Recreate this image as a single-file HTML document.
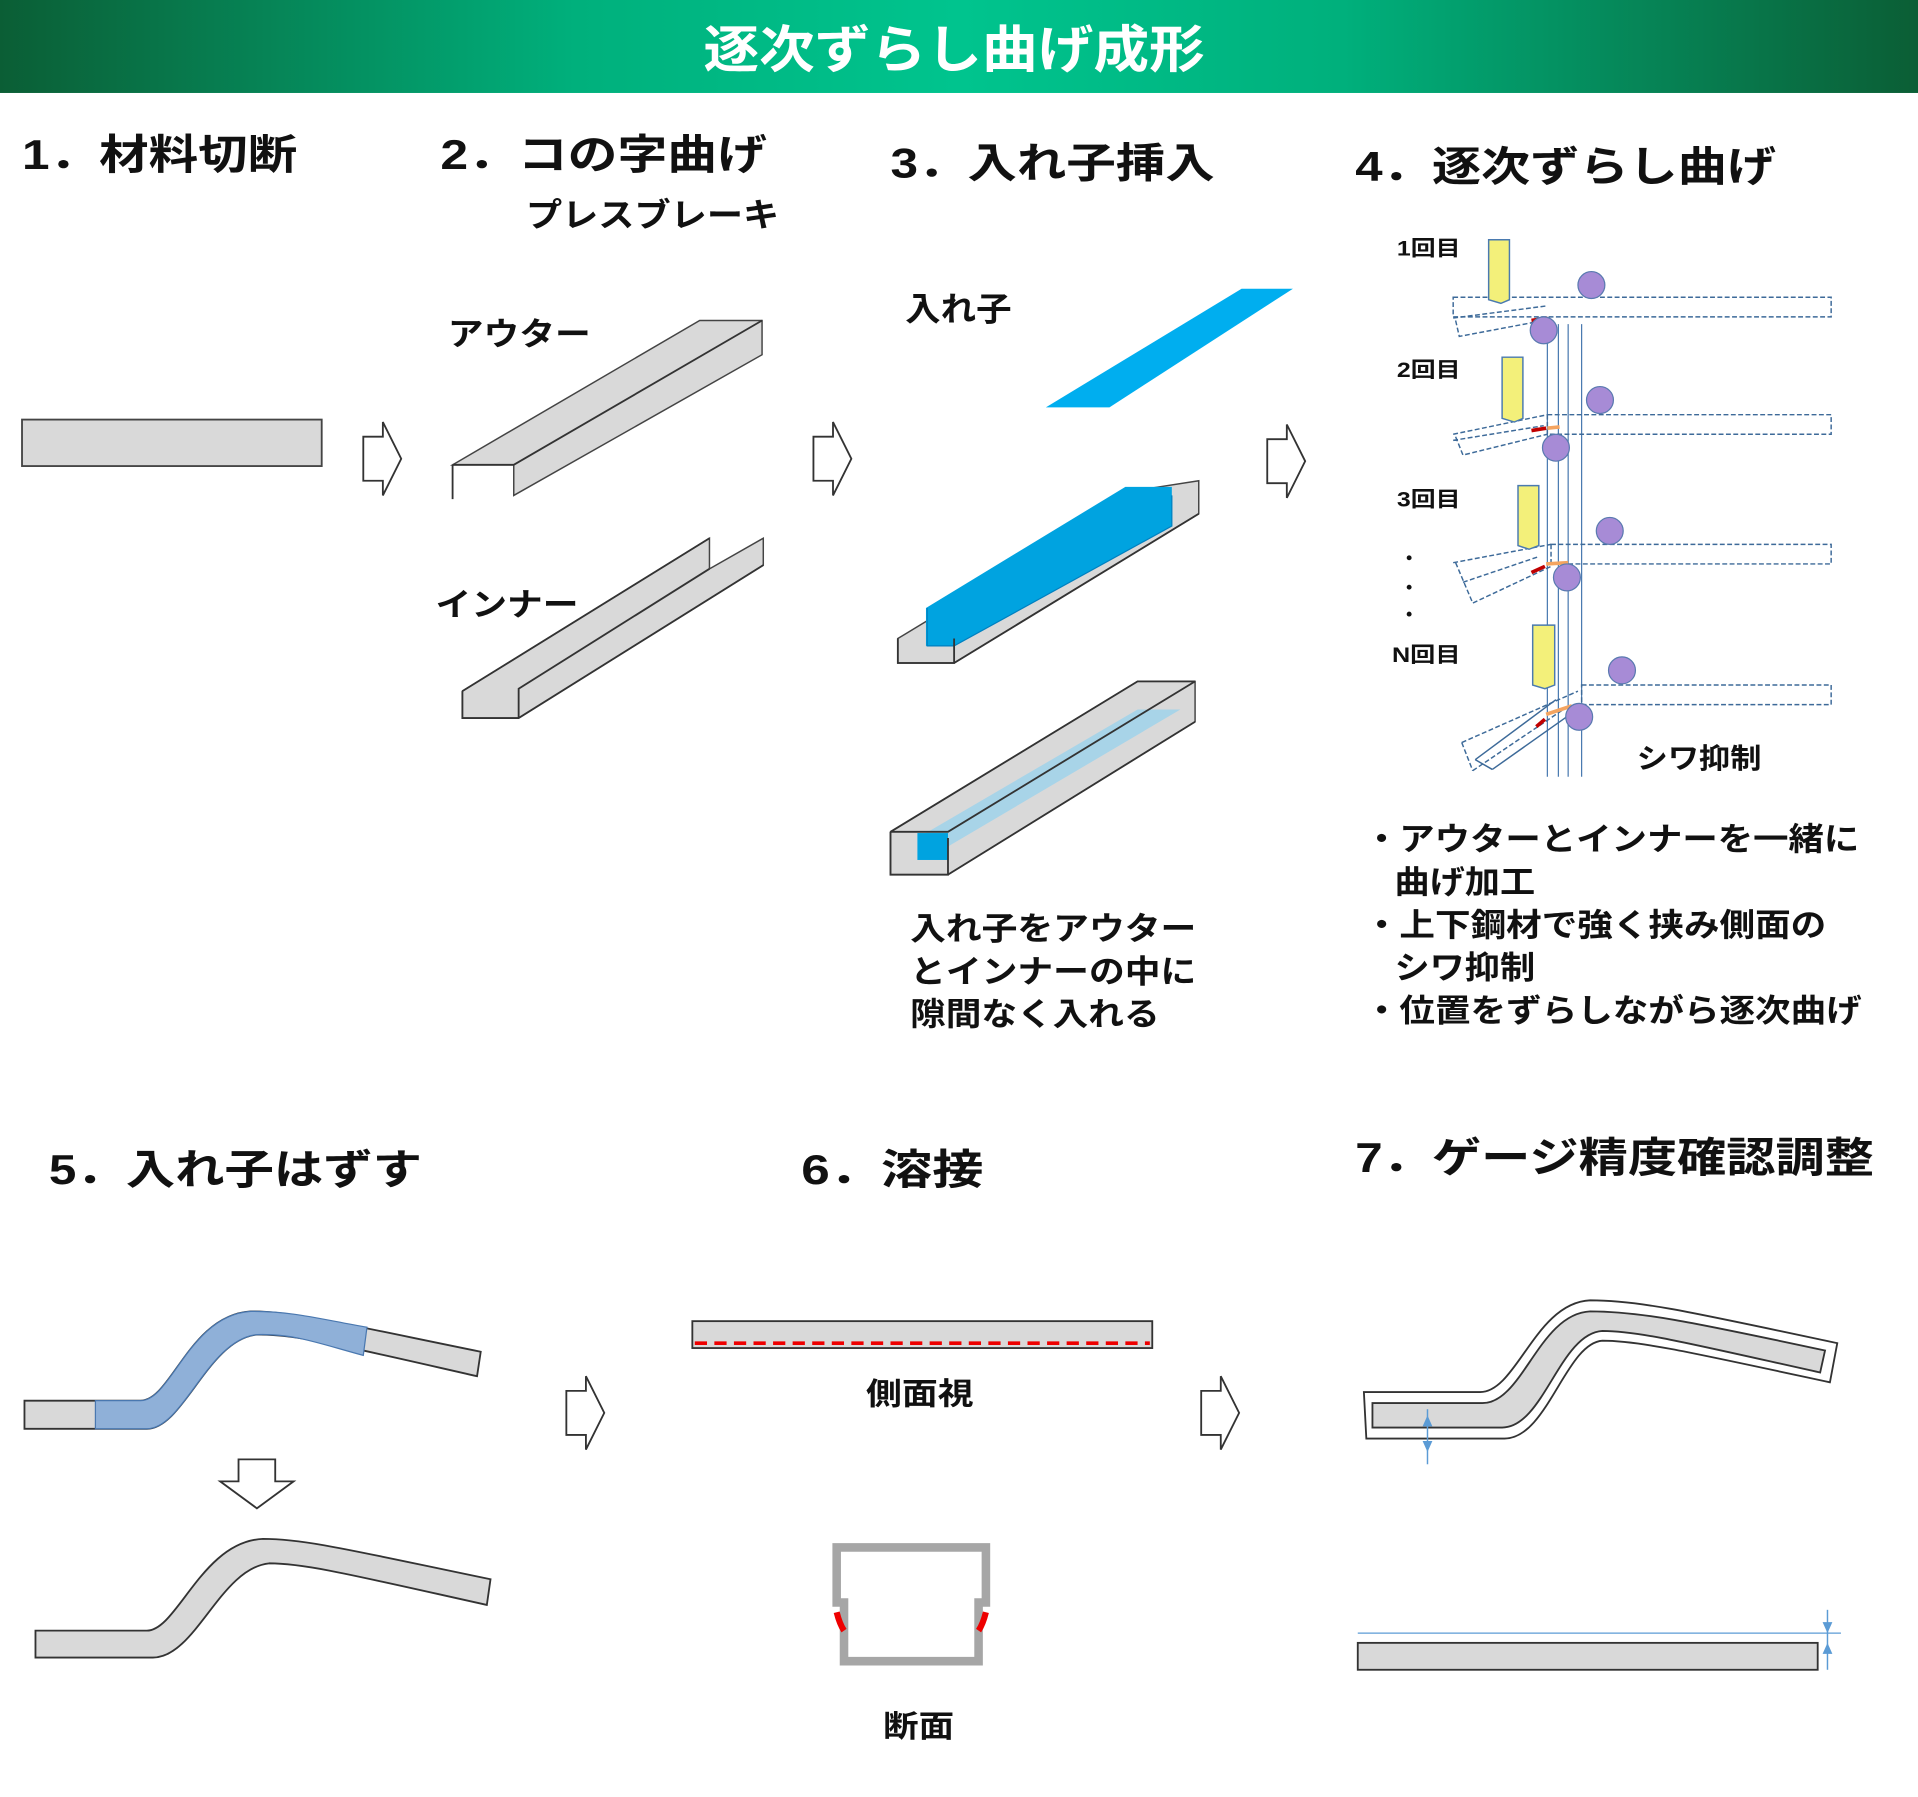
<!DOCTYPE html>
<html><head><meta charset="utf-8"><style>
html,body{margin:0;padding:0;background:#fff}
svg{display:block}
text{font-family:"Liberation Sans","Noto Sans CJK JP",sans-serif;font-weight:bold;fill:#111}
</style></head><body>
<svg width="1918" height="1797" viewBox="0 0 1568 1469" preserveAspectRatio="none" xmlns="http://www.w3.org/2000/svg">
<defs>
<linearGradient id="hg" x1="0" x2="1" y1="0" y2="0">
<stop offset="0" stop-color="#0b5e35"/><stop offset="0.3" stop-color="#00b07c"/><stop offset="0.5" stop-color="#00c48e"/><stop offset="0.7" stop-color="#00b07c"/><stop offset="1" stop-color="#0b5e35"/>
</linearGradient>
<g id="arr"><path d="M0,12 H16 V0 L31,30 L16,60 V48 H0 Z" fill="#fff" stroke="#333" stroke-width="1.5"/></g>
</defs>
<rect x="0" y="0" width="1568" height="76" fill="url(#hg)"/>
<text x="575" y="55" font-size="42" textLength="410" lengthAdjust="spacingAndGlyphs" style="fill:#fff">逐次ずらし曲げ成形</text>

<text x="18" y="138" font-size="34" textLength="225" lengthAdjust="spacingAndGlyphs">1．材料切断</text>
<text x="360" y="138" font-size="34" textLength="267" lengthAdjust="spacingAndGlyphs">2．コの字曲げ</text>
<text x="430" y="185" font-size="27" textLength="207" lengthAdjust="spacingAndGlyphs">プレスブレーキ</text>
<text x="728" y="145" font-size="34" textLength="265" lengthAdjust="spacingAndGlyphs">3．入れ子挿入</text>
<text x="1108" y="148" font-size="34" textLength="344" lengthAdjust="spacingAndGlyphs">4．逐次ずらし曲げ</text>
<text x="40" y="968" font-size="34" textLength="305" lengthAdjust="spacingAndGlyphs">5．入れ子はずす</text>
<text x="655" y="968" font-size="34" textLength="149" lengthAdjust="spacingAndGlyphs">6．溶接</text>
<text x="1108" y="958" font-size="34" textLength="424" lengthAdjust="spacingAndGlyphs">7．ゲージ精度確認調整</text>

<!-- step1 -->
<rect x="18" y="343" width="245" height="38" fill="#d9d9d9" stroke="#444" stroke-width="1.5"/>
<use href="#arr" x="297" y="345"/>
<use href="#arr" x="665" y="345"/>
<use href="#arr" x="1036" y="347"/>
<use href="#arr" x="463" y="1125"/>
<use href="#arr" x="982" y="1125"/>
<path d="M195,1193 H225 V1211 H240 L210,1233 L180,1211 H195 Z" fill="#fff" stroke="#333" stroke-width="1.5"/>

<!-- step2 outer -->
<text x="366" y="282" font-size="26" textLength="117" lengthAdjust="spacingAndGlyphs">アウター</text>
<path d="M370,380 L572,262 H623 V290 L420,405 V380 Z" fill="#d9d9d9" stroke="#444" stroke-width="1.2"/>
<path d="M370,380 H420 M370,380 V408 M420,380 L623,262" fill="none" stroke="#333" stroke-width="1.5"/>
<text x="356" y="503" font-size="26" textLength="117" lengthAdjust="spacingAndGlyphs">インナー</text>
<path d="M378,565 L580,440 V465 L624,440 V462 L424,587 H378 Z" fill="#d9d9d9" stroke="#444" stroke-width="1.2"/>
<path d="M378,565 V587 H424 L624,462 M424,587 V563 L580,465 M378,565 L580,440" fill="none" stroke="#333" stroke-width="1.5"/>

<!-- step3 -->
<text x="740" y="262" font-size="27" textLength="87" lengthAdjust="spacingAndGlyphs">入れ子</text>
<path d="M855,333 L1015,236 H1057 L907,333 Z" fill="#00aeef"/>
<path d="M734,522 L935,400 L980,393 V420 L780,542 H734 Z" fill="#d9d9d9" stroke="#444" stroke-width="1.2"/>
<path d="M757,497 L920,398 H958 V430 L780,528 H757 Z" fill="#00a3e0"/>
<path d="M758,497 V528 H780 L958,430 V405" fill="none" stroke="#0080c0" stroke-width="1"/>
<path d="M734,522 V542 H780 V522 M780,542 L980,420" fill="none" stroke="#333" stroke-width="1.5"/>
<path d="M728,680 L930,557 H977 V590 L775,715 H728 Z" fill="#d9d9d9" stroke="#444" stroke-width="1.2"/>
<path d="M750,685 L930,580 H965 L775,692 Z" fill="#a8d4e8"/>
<rect x="750" y="681" width="25" height="22" fill="#00a3e0"/>
<path d="M728,680 H775 L977,557 M728,680 V715 H775 V685 M775,715 L977,590 M728,680 L930,557 H977" fill="none" stroke="#333" stroke-width="1.5"/>
<text x="744" y="768" font-size="26" textLength="234" lengthAdjust="spacingAndGlyphs">入れ子をアウター</text>
<text x="744" y="803" font-size="26" textLength="234" lengthAdjust="spacingAndGlyphs">とインナーの中に</text>
<text x="744" y="838" font-size="26" textLength="204" lengthAdjust="spacingAndGlyphs">隙間なく入れる</text>

<!-- step4 -->
<text x="1142" y="209" font-size="17" textLength="52" lengthAdjust="spacingAndGlyphs">1回目</text>
<text x="1142" y="308" font-size="17" textLength="52" lengthAdjust="spacingAndGlyphs">2回目</text>
<text x="1142" y="414" font-size="17" textLength="52" lengthAdjust="spacingAndGlyphs">3回目</text>
<text x="1138" y="541" font-size="17" textLength="56" lengthAdjust="spacingAndGlyphs">N回目</text>
<circle cx="1152" cy="456" r="2" fill="#111"/><circle cx="1152" cy="480" r="2" fill="#111"/><circle cx="1152" cy="502" r="2" fill="#111"/>
<g stroke="#4a7ab0" stroke-width="1" fill="none">
<line x1="1265" y1="265" x2="1265" y2="635"/><line x1="1274" y1="265" x2="1274" y2="635"/><line x1="1282" y1="265" x2="1282" y2="635"/><line x1="1293" y1="265" x2="1293" y2="635"/>
</g>
<g stroke="#3d6a99" stroke-width="1.2" fill="none" stroke-dasharray="4,2">
<rect x="1188" y="243" width="309" height="16"/>
<path d="M1188,260 L1265,250 M1190,262 L1193,275 L1262,262"/>
<rect x="1265" y="339" width="232" height="16"/>
<path d="M1188,355 L1265,339 M1190,357 L1196,372 L1265,355 M1188,360 L1262,348"/>
<rect x="1268" y="445" width="229" height="16"/>
<path d="M1188,460 L1268,445 M1190,460 L1204,493 L1268,463 M1196,476 L1258,455"/>
<rect x="1293" y="560" width="204" height="16"/>
<path d="M1195,607 L1290,565 M1204,630 L1278,580 M1195,607 L1204,630"/>
</g>
<path d="M1206,621 L1272,572 M1220,629 L1285,583 M1206,621 L1220,629" stroke="#3d6a99" stroke-width="1.2" fill="none"/>
<g fill="#f3f07a" stroke="#4a7ab0" stroke-width="1.2">
<path d="M1217,196 H1234 V245 L1227,248 L1217,245 Z"/>
<path d="M1228,292 H1245 V342 L1238,345 L1228,342 Z"/>
<path d="M1241,397 H1258 V446 L1250,449 L1241,446 Z"/>
<path d="M1253,511 H1271 V560 L1263,563 L1253,560 Z"/>
</g>
<g stroke="#c00000" stroke-width="3" fill="none">
<path d="M1252,262 L1265,260"/><path d="M1252,352 L1264,350"/><path d="M1252,468 L1263,463"/><path d="M1256,594 L1263,588"/>
</g>
<g stroke="#f4a460" stroke-width="3" fill="none"><path d="M1265,350 L1275,349"/><path d="M1264,461 L1282,460"/><path d="M1264,584 L1285,577"/></g>
<g fill="#a78bd6" stroke="#5a7ab0" stroke-width="1">
<circle cx="1301" cy="233" r="11"/><circle cx="1262" cy="270" r="11"/>
<circle cx="1308" cy="327" r="11"/><circle cx="1272" cy="366" r="11"/>
<circle cx="1316" cy="434" r="11"/><circle cx="1281" cy="472" r="11"/>
<circle cx="1326" cy="548" r="11"/><circle cx="1291" cy="586" r="11"/>
</g>
<text x="1338" y="628" font-size="23" textLength="102" lengthAdjust="spacingAndGlyphs">シワ抑制</text>
<text x="1115" y="695" font-size="26" textLength="405" lengthAdjust="spacingAndGlyphs">・アウターとインナーを一緒に</text>
<text x="1140" y="730" font-size="26" textLength="115" lengthAdjust="spacingAndGlyphs">曲げ加工</text>
<text x="1115" y="765" font-size="26" textLength="378" lengthAdjust="spacingAndGlyphs">・上下鋼材で強く挟み側面の</text>
<text x="1140" y="800" font-size="26" textLength="115" lengthAdjust="spacingAndGlyphs">シワ抑制</text>
<text x="1115" y="835" font-size="26" textLength="407" lengthAdjust="spacingAndGlyphs">・位置をずらしながら逐次曲げ</text>

<!-- step5 -->
<path d="M20,1145 H115 C140,1145 155,1075 205,1072 C240,1072 280,1082 393,1105 L390,1125 C280,1100 240,1090 210,1091 C170,1095 150,1168 120,1168 H20 Z" fill="#d9d9d9" stroke="#333" stroke-width="1.5"/>
<path d="M78,1145 H115 C140,1145 155,1075 205,1072 C240,1072 260,1078 300,1085 L297,1108 C260,1098 240,1090 210,1091 C170,1095 150,1168 120,1168 H78 Z" fill="#8fb0d8" stroke="#4a78b0" stroke-width="1"/>
<path d="M29,1333 H120 C145,1333 165,1260 215,1258 C250,1258 290,1268 401,1291 L398,1312 C290,1288 250,1278 220,1278 C180,1282 160,1355 125,1355 H29 Z" fill="#d9d9d9" stroke="#333" stroke-width="1.5"/>

<!-- step6 -->
<rect x="566" y="1080" width="376" height="22" fill="#d9d9d9" stroke="#333" stroke-width="1.5"/>
<line x1="568" y1="1098" x2="940" y2="1098" stroke="#e00" stroke-width="3" stroke-dasharray="10,6"/>
<text x="708" y="1148" font-size="25" textLength="88" lengthAdjust="spacingAndGlyphs">側面視</text>
<path d="M684,1265 H806 V1310 L800,1310 V1358 H690 V1310 L684,1310 Z" fill="none" stroke="#a6a6a6" stroke-width="7"/>
<path d="M684,1318 C686,1326 688,1330 690,1333" stroke="#e00" stroke-width="5" fill="none"/>
<path d="M806,1318 C804,1326 802,1330 800,1333" stroke="#e00" stroke-width="5" fill="none"/>
<text x="722" y="1420" font-size="25" textLength="58" lengthAdjust="spacingAndGlyphs">断面</text>

<!-- step7 -->
<path d="M1115,1138 H1210 C1240,1138 1255,1065 1300,1063 C1340,1063 1380,1072 1502,1098 L1496,1130 C1380,1105 1340,1096 1310,1096 C1280,1098 1265,1176 1230,1176 H1117 Z" fill="#fff" stroke="#333" stroke-width="1.5"/>
<path d="M1122,1147 H1212 C1245,1147 1258,1074 1300,1072 C1340,1072 1380,1080 1492,1104 L1488,1122 C1380,1098 1340,1088 1310,1088 C1275,1090 1262,1167 1228,1167 H1122 Z" fill="#d9d9d9" stroke="#333" stroke-width="1.5"/>
<line x1="1167" y1="1152" x2="1167" y2="1197" stroke="#5b9bd5" stroke-width="1.2"/>
<path d="M1163,1166 L1167,1157 L1171,1166Z M1163,1178 L1167,1187 L1171,1178Z" fill="#5b9bd5"/>
<rect x="1110" y="1343" width="376" height="22" fill="#d9d9d9" stroke="#333" stroke-width="1.5"/>
<line x1="1110" y1="1335" x2="1505" y2="1335" stroke="#5b9bd5" stroke-width="1"/>
<line x1="1494" y1="1316" x2="1494" y2="1365" stroke="#5b9bd5" stroke-width="1.2"/>
<path d="M1490,1326 L1494,1335 L1498,1326Z M1490,1352 L1494,1343 L1498,1352Z" fill="#5b9bd5"/>
</svg>
</body></html>
